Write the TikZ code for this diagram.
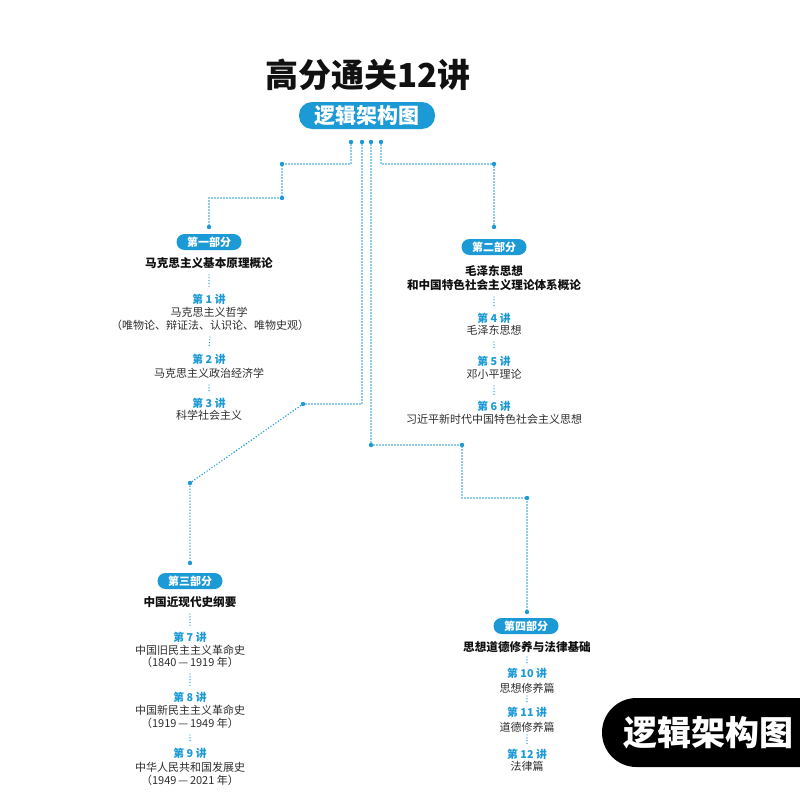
\documentclass[tikz,border=0pt]{standalone}
\usepackage{fontspec}
\setmainfont{Noto Sans CJK SC}
\newfontfamily\cjkblack{Noto Sans CJK SC Black}
\usetikzlibrary{calc}
\definecolor{mblue}{HTML}{1C9AD6}
\definecolor{bodygray}{HTML}{2E2E2E}
\definecolor{headblack}{HTML}{111111}
\tikzset{
  dotline/.style={draw=mblue, line width=1.6pt, dash pattern=on 0pt off 3pt, line cap=round},
  sdot/.style={draw=mblue, line width=1.4pt, dash pattern=on 0pt off 2.8pt, line cap=round},
  jdot/.style={fill=mblue},
  partpill/.style={fill=mblue, rounded corners=8pt, minimum width=65pt, minimum height=16pt, inner sep=0pt, text=white, font=\bfseries\fontsize{11}{11}\selectfont},
  head/.style={inner sep=0pt, text=headblack, font=\bfseries\fontsize{11.6}{11.6}\selectfont},
  lec/.style={inner sep=0pt, text=mblue, font=\bfseries\fontsize{10.8}{10.8}\selectfont},
  body/.style={inner sep=0pt, text=bodygray, font=\fontsize{11}{11}\selectfont},
}
\newcommand\gapdots[2]{\draw[sdot] ($(#1)+(0,12)$) -- ($(#2)+(0,-11)$);}
\newcommand\yrs[2]{（#1\,—\,#2\ 年）}
\begin{document}
\begin{tikzpicture}[x=1pt,y=-1pt]
\useasboundingbox (0,0) rectangle (800,800);
% title
\node[inner sep=0pt, text=headblack, font=\cjkblack\fontsize{33}{33}\selectfont] (title) at (368,75) {高分通关12讲};
\node[fill=mblue, rounded corners=13pt, minimum width=136pt, minimum height=27pt, inner sep=0pt, text=white, font=\cjkblack\fontsize{21}{21}\selectfont] (sub) at (367,115.5) {逻辑架构图};

% start points
\coordinate (s1) at (351,142);
\coordinate (s2) at (362,142);
\coordinate (s3) at (371,142);
\coordinate (s4) at (381,142);
\coordinate (e1) at (209,227);
\coordinate (e2) at (494,227);
\coordinate (e3) at (190,563);
\coordinate (e4) at (527,612);

% part pills
\node[partpill] (p1) at (209,242) {第一部分};
\node[partpill] (p2) at (494,247) {第二部分};
\node[partpill] (p3) at (190,581) {第三部分};
\node[partpill] (p4) at (526,626) {第四部分};

% connectors
\draw[dotline] (s1) -- (351,164) -- (282,164) -- (282,198) -- (209,198) -- (e1);
\draw[dotline] (s4) -- (381,164) -- (494,164) -- (e2);
\draw[dotline] (s2) -- (362,404) -- (303,404) -- (190,483) -- (e3);
\draw[dotline] (s3) -- (371,445) -- (462,445) -- (462,498) -- (527,498) -- (e4);
\foreach \p in {(s1),(s2),(s3),(s4),(e1),(e2),(e3),(e4),(282,164),(282,198),(494,164),(303,404),(190,483),(371,445),(462,445),(527,498)}
  \fill[jdot] \p circle (2.2pt);

% part 1
\node[head] (h1) at (209,263) {马克思主义基本原理概论};
\node[lec] (l1) at (209,299) {第 1 讲};
\node[body] (b1a) at (209,312) {马克思主义哲学};
\node[body] (b1b) at (210,325) {（唯物论、辩证法、认识论、唯物史观）};
\node[lec] (l2) at (209,359) {第 2 讲};
\node[body] (b2) at (209,373) {马克思主义政治经济学};
\node[lec] (l3) at (209,403) {第 3 讲};
\node[body] (b3) at (209,415) {科学社会主义};
\gapdots{h1}{l1}
\gapdots{b1b}{l2}
\gapdots{b2}{l3}

% part 2
\node[head] (h2a) at (494,271) {毛泽东思想};
\node[head] (h2b) at (494,285) {和中国特色社会主义理论体系概论};
\node[lec] (l4) at (494,318) {第 4 讲};
\node[body] (b4) at (494,330) {毛泽东思想};
\node[lec] (l5) at (494,361) {第 5 讲};
\node[body] (b5) at (494,374) {邓小平理论};
\node[lec] (l6) at (494,406) {第 6 讲};
\node[body] (b6) at (494,419) {习近平新时代中国特色社会主义思想};
\gapdots{h2b}{l4}
\gapdots{b4}{l5}
\gapdots{b5}{l6}

% part 3
\node[head] (h3) at (190,602) {中国近现代史纲要};
\node[lec] (l7) at (190,637) {第 7 讲};
\node[body] (b7a) at (190,650) {中国旧民主主义革命史};
\node[body] (b7b) at (190,662) {\yrs{1840}{1919}};
\node[lec] (l8) at (190,697) {第 8 讲};
\node[body] (b8a) at (190,710) {中国新民主主义革命史};
\node[body] (b8b) at (190,723) {\yrs{1919}{1949}};
\node[lec] (l9) at (190,753) {第 9 讲};
\node[body] (b9a) at (190,767) {中华人民共和国发展史};
\node[body] (b9b) at (190,780) {\yrs{1949}{2021}};
\gapdots{h3}{l7}
\gapdots{b7b}{l8}
\gapdots{b8b}{l9}

% part 4
\node[head] (h4) at (527,647) {思想道德修养与法律基础};
\node[lec] (l10) at (527,673) {第 10 讲};
\node[body] (b10) at (527,688) {思想修养篇};
\node[lec] (l11) at (527,712) {第 11 讲};
\node[body] (b11) at (527,727) {道德修养篇};
\node[lec] (l12) at (527,754) {第 12 讲};
\node[body] (b12) at (527,766) {法律篇};
\draw[sdot] ($(h4)+(0,10)$) -- ($(l10)+(0,-9)$);
\draw[sdot] ($(b10)+(0,8)$) -- ($(l11)+(0,-8)$);
\draw[sdot] ($(b11)+(0,8)$) -- ($(l12)+(0,-9)$);

% badge
\fill[black, rounded corners=34.5pt] (602,698) rectangle (880,767);
\node[inner sep=0pt, text=white, font=\cjkblack\fontsize{34}{34}\selectfont] (badge) at (708,733) {逻辑架构图};
\end{tikzpicture}
\end{document}
